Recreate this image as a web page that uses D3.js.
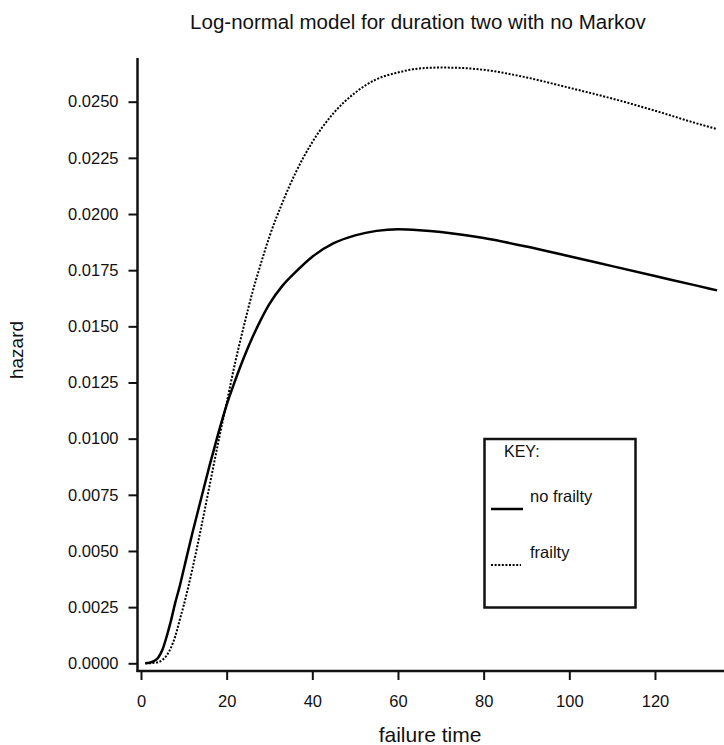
<!DOCTYPE html>
<html>
<head>
<meta charset="utf-8">
<script src="https://cdn.jsdelivr.net/npm/d3@7"></script>
<style>
  body { margin: 0; background: #fff; }
  text { font-family: "Liberation Sans", Arial, sans-serif; fill: #111; }
</style>
</head>
<body>
<div id="chart"></div>
<script>
(function(){
  var width = 724;
  var height = 745;

  // failure time points
  var times = [1, 2, 3, 4, 5, 6, 7, 8, 9, 10, 12, 14, 16, 18, 20, 22, 24, 26, 28, 30,
               33, 36, 40, 45, 50, 55, 60, 65, 70, 75, 80, 90, 100, 110, 120, 130, 134.5];

  // hazard, no frailty (solid)
  var noFrailty = [0.0000, 0.00003, 0.0001, 0.00025, 0.0006, 0.0012, 0.0019, 0.0027, 0.0034, 0.0042,
                   0.0058, 0.0073, 0.0088, 0.0102, 0.0115, 0.0126, 0.0136, 0.0145, 0.0153, 0.0160,
                   0.0168, 0.0174, 0.0181, 0.0187, 0.01905, 0.01925, 0.01932, 0.01928, 0.0192, 0.01908,
                   0.01893, 0.01855, 0.01812, 0.01768, 0.01724, 0.0168, 0.0166];

  // hazard, frailty (dotted)
  var frailty = [0.0000, 0.0000, 0.00002, 0.00005, 0.00015, 0.00035, 0.0007, 0.0012, 0.0019, 0.0026,
                 0.0042, 0.0060, 0.0079, 0.0098, 0.0116, 0.0134, 0.0150, 0.0165, 0.0178, 0.0190,
                 0.0205, 0.0218, 0.0232, 0.0245, 0.0254, 0.0260, 0.0263, 0.02648, 0.02652, 0.0265,
                 0.02642, 0.02608, 0.02562, 0.02514, 0.0246, 0.02402, 0.02378];

  var xTicks = [0, 20, 40, 60, 80, 100, 120];
  var yTicks = [0, 0.0025, 0.005, 0.0075, 0.01, 0.0125, 0.015, 0.0175, 0.02, 0.0225, 0.025];

  var titleText = "Log-normal model for duration two with no Markov";
  var keyLabels = ["no frailty", "frailty"];

  var axisX0 = 137.5, axisY0 = 671;

  var svg = d3.select("#chart")
    .append("svg")
    .attr("width", width)
    .attr("height", height);

  var x = d3.scaleLinear().domain([0, 136]).range([141, 723.5]);
  var y = d3.scaleLinear().domain([0, 0.025]).range([663.3, 101.7]);

  // axes lines
  svg.append("line")
    .attr("x1", axisX0).attr("x2", axisX0)
    .attr("y1", 58).attr("y2", axisY0 + 1)
    .attr("stroke", "#111").attr("stroke-width", 2.5);
  svg.append("line")
    .attr("x1", axisX0 - 1).attr("x2", width)
    .attr("y1", axisY0).attr("y2", axisY0)
    .attr("stroke", "#111").attr("stroke-width", 2.5);

  var yAxis = svg.append("g")
    .attr("transform", "translate(" + axisX0 + ",0)")
    .call(d3.axisLeft(y).tickValues(yTicks).tickFormat(d3.format(".4f"))
      .tickSize(9).tickPadding(10));
  yAxis.select(".domain").remove();

  var xAxis = svg.append("g")
    .attr("transform", "translate(0," + axisY0 + ")")
    .call(d3.axisBottom(x).tickValues(xTicks).tickFormat(d3.format("d"))
      .tickSize(9).tickPadding(15));
  xAxis.select(".domain").remove();

  svg.selectAll(".tick line").attr("stroke", "#111").attr("stroke-width", 2);
  svg.selectAll(".tick text")
    .style("font-family", "'Liberation Sans', Arial, sans-serif")
    .style("font-size", "16.5px")
    .attr("fill", "#222");

  var line = d3.line()
    .curve(d3.curveMonotoneX)
    .x(function(d) { return x(d[0]); })
    .y(function(d) { return y(d[1]); });

  svg.append("path")
    .attr("d", line(d3.zip(times, noFrailty)))
    .attr("fill", "none")
    .attr("stroke", "#000")
    .attr("stroke-width", 2.5);

  svg.append("path")
    .attr("d", line(d3.zip(times, frailty)))
    .attr("fill", "none")
    .attr("stroke", "#000")
    .attr("stroke-width", 2)
    .attr("stroke-dasharray", "2,1.6");

  // title and axis labels
  svg.append("text")
    .attr("x", 418).attr("y", 29)
    .attr("text-anchor", "middle")
    .style("font-size", "20.5px")
    .text(titleText);

  svg.append("text")
    .attr("x", 430).attr("y", 742)
    .attr("text-anchor", "middle")
    .style("font-size", "21px")
    .text("failure time");

  svg.append("text")
    .attr("transform", "translate(23,350) rotate(-90)")
    .attr("text-anchor", "middle")
    .style("font-size", "19px")
    .text("hazard");

  // key
  var key = svg.append("g");
  key.append("rect")
    .attr("x", 484.5).attr("y", 439)
    .attr("width", 151).attr("height", 168.5)
    .attr("fill", "none").attr("stroke", "#111").attr("stroke-width", 2.5);
  key.append("text").attr("x", 504).attr("y", 457)
    .style("font-size", "16px").text("KEY:");
  key.append("line")
    .attr("x1", 491).attr("x2", 523).attr("y1", 509).attr("y2", 509)
    .attr("stroke", "#000").attr("stroke-width", 2.5);
  key.append("text").attr("x", 530).attr("y", 502)
    .style("font-size", "16.5px").text(keyLabels[0]);
  key.append("line")
    .attr("x1", 491).attr("x2", 521).attr("y1", 565).attr("y2", 565)
    .attr("stroke", "#000").attr("stroke-width", 2)
    .attr("stroke-dasharray", "2,1.6");
  key.append("text").attr("x", 530).attr("y", 558)
    .style("font-size", "16.5px").text(keyLabels[1]);
})();
</script>
</body>
</html>
